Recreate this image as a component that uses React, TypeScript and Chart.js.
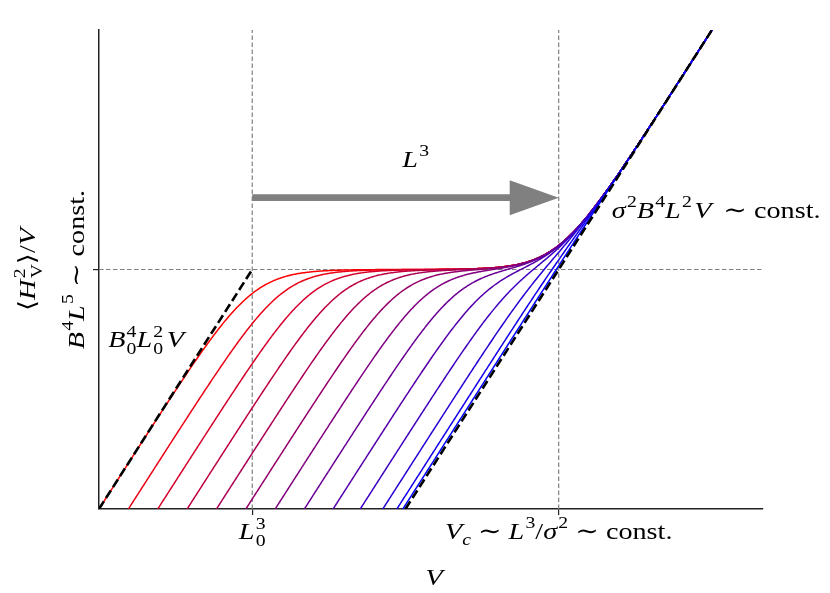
import { useEffect, useRef } from 'react';
import { Chart, registerables } from 'chart.js';

Chart.register(...registerables);

// ---- data (log10 units of V and <H_V^2>/V) ----
const X_RANGE = [0, 13];
const Y_RANGE = [0, 6];
const X_TICKS = [3, 9]; // L0^3 , Vc
const Y_TICKS = [3]; // B^4 L^5 ~ const.
const PLATEAU = 3; // log level of the plateau
const LARGE_V_OFFSET = -6; // log(sigma^2 B^4 L^2) : asymptote y = x - 6
const SMALL_V_LINE = [
  { x: 0, y: 0 },
  { x: 3, y: 3 },
];
const LARGE_V_LINE = [
  { x: 6, y: 0 },
  { x: 12, y: 6 },
];
// log10 of the small-V amplitude B^4 L^2 of each curve (red -> blue)
const CURVE_LOG_AMPLITUDES = [
  0, -0.575, -1.15, -1.725, -2.3, -2.875, -3.45, -4.025, -4.6, -5.175, -5.75, -6.325, -6.9,
];

const FAMILY = "'Liberation Serif', 'DejaVu Serif', serif";
const FS = 23.5;
const SX = 1.2;

type Seg = { t?: string; it?: boolean; s?: 'sup' | 'sub'; sup?: string; sub?: string; sp?: number };

function fontOf(size: number, it?: boolean) {
  return `${it ? 'italic ' : ''}${size}px ${FAMILY}`;
}

function segWidth(ctx: CanvasRenderingContext2D, g: Seg) {
  if (g.sup !== undefined || g.sub !== undefined) {
    ctx.font = fontOf(FS * 0.7, false);
    return Math.max(ctx.measureText(g.sup || '').width, ctx.measureText(g.sub || '').width) + (g.sp || 0);
  }
  const size = g.s ? FS * 0.7 : FS;
  ctx.font = fontOf(size, g.it);
  return ctx.measureText(g.t || '').width + (g.sp || 0);
}

function drawMath(
  ctx: CanvasRenderingContext2D,
  segs: Seg[],
  x: number,
  y: number,
  align: 'left' | 'center',
  rot = 0,
) {
  ctx.save();
  ctx.translate(x, y);
  if (rot) ctx.rotate(rot);
  ctx.scale(SX, 1);
  ctx.fillStyle = '#000';
  ctx.textBaseline = 'alphabetic';
  ctx.textAlign = 'left';
  const total = segs.reduce((a, g) => a + segWidth(ctx, g), 0);
  let cx = align === 'center' ? -total / 2 : 0;
  for (const g of segs) {
    const w = segWidth(ctx, g);
    if (g.sup !== undefined || g.sub !== undefined) {
      ctx.font = fontOf(FS * 0.7, false);
      if (g.sup) ctx.fillText(g.sup, cx, -FS * 0.42);
      if (g.sub) ctx.fillText(g.sub, cx, FS * 0.3);
    } else if (g.s === 'sup') {
      ctx.font = fontOf(FS * 0.7, g.it);
      ctx.fillText(g.t || '', cx, -FS * 0.47);
    } else if (g.s === 'sub') {
      ctx.font = fontOf(FS * 0.7, g.it);
      ctx.fillText(g.t || '', cx, FS * 0.25);
    } else {
      ctx.font = fontOf(FS, g.it);
      ctx.fillText(g.t || '', cx, 0);
    }
    cx += w;
  }
  ctx.restore();
}

const Y_TITLE: Seg[] = [{ t: '⟨' }, { t: 'H', it: true, sp: 1 }, { sup: '2', sub: 'V' }, { t: '⟩/' }, { t: 'V', it: true }];
const Y_TICK_LABEL: Seg[] = [
  { t: 'B', it: true, sp: 1 },
  { t: '4', s: 'sup' },
  { t: 'L', it: true, sp: 1 },
  { t: '5', s: 'sup' },
  { t: ' ∼ ' },
  { t: 'const.' },
];
const X_TICK_LABELS: Seg[][] = [
  [{ t: 'L', it: true, sp: 1 }, { sup: '3', sub: '0' }],
  [
    { t: 'V', it: true },
    { t: 'c', it: true, s: 'sub' },
    { t: ' ∼ ' },
    { t: 'L', it: true, sp: 1 },
    { t: '3', s: 'sup' },
    { t: '/' },
    { t: 'σ', it: true, sp: 1 },
    { t: '2', s: 'sup' },
    { t: ' ∼ ' },
    { t: 'const.' },
  ],
];
const X_TITLE: Seg[] = [{ t: 'V', it: true }];
const ARROW_LABEL: Seg[] = [{ t: 'L', it: true, sp: 1 }, { t: '3', s: 'sup' }];
const RIGHT_LABEL: Seg[] = [
  { t: 'σ', it: true, sp: 1 },
  { t: '2', s: 'sup' },
  { t: 'B', it: true, sp: 1 },
  { t: '4', s: 'sup' },
  { t: 'L', it: true, sp: 1 },
  { t: '2', s: 'sup', sp: 2 },
  { t: 'V', it: true, sp: 4 },
  { t: ' ∼ ' },
  { t: 'const.' },
];
const LEFT_LABEL: Seg[] = [
  { t: 'B', it: true, sp: 1 },
  { sup: '4', sub: '0' },
  { t: 'L', it: true, sp: 1 },
  { sup: '2', sub: '0', sp: 3 },
  { t: 'V', it: true },
];

function curveValue(logA: number, x: number) {
  const small = 1 / (Math.pow(10, -(logA + x)) + Math.pow(10, -PLATEAU));
  return Math.log10(small + Math.pow(10, x + LARGE_V_OFFSET));
}

function curveColor(i: number, n: number) {
  const t = i / (n - 1);
  return `rgb(${Math.round(255 * (1 - t))},0,${Math.round(255 * t)})`;
}

const annotationPlugin = {
  id: 'annot',
  afterDraw(chart: any) {
    const ctx: CanvasRenderingContext2D = chart.ctx;
    const xs = chart.scales.x;
    const ys = chart.scales.y;
    const area = chart.chartArea;
    // arrow
    const ax0 = xs.getPixelForValue(X_TICKS[0]);
    const ax1 = xs.getPixelForValue(X_TICKS[1]);
    const ay = ys.getPixelForValue(3.9);
    ctx.save();
    ctx.fillStyle = '#808080';
    const headLen = 49;
    const headHalf = 17.5;
    const shaftHalf = 3.3;
    ctx.beginPath();
    ctx.moveTo(ax0, ay - shaftHalf);
    ctx.lineTo(ax1 - headLen, ay - shaftHalf);
    ctx.lineTo(ax1 - headLen, ay - headHalf);
    ctx.lineTo(ax1, ay);
    ctx.lineTo(ax1 - headLen, ay + headHalf);
    ctx.lineTo(ax1 - headLen, ay + shaftHalf);
    ctx.lineTo(ax0, ay + shaftHalf);
    ctx.closePath();
    ctx.fill();
    ctx.restore();

    drawMath(ctx, ARROW_LABEL, xs.getPixelForValue(6.2), ys.getPixelForValue(4.28), 'center');
    drawMath(ctx, RIGHT_LABEL, xs.getPixelForValue(10.04), ys.getPixelForValue(3.645), 'left');
    drawMath(ctx, LEFT_LABEL, xs.getPixelForValue(0.18), ys.getPixelForValue(2.03), 'left');

    // tick labels
    X_TICKS.forEach((v, i) => {
      drawMath(ctx, X_TICK_LABELS[i], xs.getPixelForValue(v), area.bottom + 30, 'center');
    });
    drawMath(ctx, Y_TICK_LABEL, area.left - 15, ys.getPixelForValue(Y_TICKS[0]), 'center', -Math.PI / 2);
    // axis titles
    drawMath(ctx, X_TITLE, (area.left + area.right) / 2 + 3, area.bottom + 76, 'center');
    drawMath(ctx, Y_TITLE, 35, (area.top + area.bottom) / 2, 'center', -Math.PI / 2);
  },
};

export default function App() {
  const ref = useRef<HTMLCanvasElement | null>(null);
  useEffect(() => {
    document.body.style.margin = '0';
    const canvas = ref.current!;
    const sampleX: number[] = [];
    for (let x = X_RANGE[0]; x <= X_RANGE[1] + 1e-9; x += 0.02) sampleX.push(x);

    const curveSets = CURVE_LOG_AMPLITUDES.map((a, i) => ({
      data: sampleX.map((x) => ({ x, y: curveValue(a, x) })).filter((p) => p.y > -1.5),
      borderColor: curveColor(i, CURVE_LOG_AMPLITUDES.length),
      borderWidth: 1.5,
      pointRadius: 0,
      tension: 0,
      order: 50 - i,
      clip: 0,
    }));
    const gray = (data: { x: number; y: number }[]) => ({
      data,
      borderColor: '#808080',
      borderWidth: 1.2,
      borderDash: [4.5, 2.5],
      pointRadius: 0,
      order: 100,
      clip: 0,
    });
    const black = (data: { x: number; y: number }[]) => ({
      data,
      borderColor: '#000',
      borderWidth: 2.6,
      borderDash: [9, 4],
      pointRadius: 0,
      order: 0,
      clip: 0,
    });

    const chart = new Chart(canvas, {
      type: 'line',
      data: {
        datasets: [
          black(SMALL_V_LINE),
          black(LARGE_V_LINE),
          ...curveSets,
          gray([
            { x: X_TICKS[0], y: Y_RANGE[0] },
            { x: X_TICKS[0], y: Y_RANGE[1] },
          ]),
          gray([
            { x: X_TICKS[1], y: Y_RANGE[0] },
            { x: X_TICKS[1], y: Y_RANGE[1] },
          ]),
          gray([
            { x: X_RANGE[0], y: Y_TICKS[0] },
            { x: X_RANGE[1], y: Y_TICKS[0] },
          ]),
        ] as any,
      },
      options: {
        responsive: false,
        animation: false,
        events: [],
        layout: { padding: { top: 30, right: 67, left: 0, bottom: 0 } },
        plugins: { legend: { display: false }, tooltip: { enabled: false } },
        scales: {
          x: {
            type: 'linear',
            min: X_RANGE[0],
            max: X_RANGE[1],
            afterFit: (s: any) => {
              s.height = 84;
            },
            afterBuildTicks: (s: any) => {
              s.ticks = X_TICKS.map((value) => ({ value }));
            },
            ticks: { display: false },
            grid: { drawOnChartArea: false, drawTicks: true, tickLength: 6, color: '#222', lineWidth: 1.2 },
            border: { display: true, color: '#222', width: 1.5 },
          },
          y: {
            type: 'linear',
            min: Y_RANGE[0],
            max: Y_RANGE[1],
            afterFit: (s: any) => {
              s.width = 99;
            },
            afterBuildTicks: (s: any) => {
              s.ticks = Y_TICKS.map((value) => ({ value }));
            },
            ticks: { display: false },
            grid: { drawOnChartArea: false, drawTicks: true, tickLength: 6, color: '#222', lineWidth: 1.2 },
            border: { display: true, color: '#222', width: 1.5 },
          },
        },
      },
      plugins: [annotationPlugin],
    });
    return () => chart.destroy();
  }, []);
  return (
    <canvas
      ref={ref}
      width={830}
      height={593}
      style={{ display: 'block', position: 'absolute', left: 0, top: 0, background: '#fff' }}
    />
  );
}
